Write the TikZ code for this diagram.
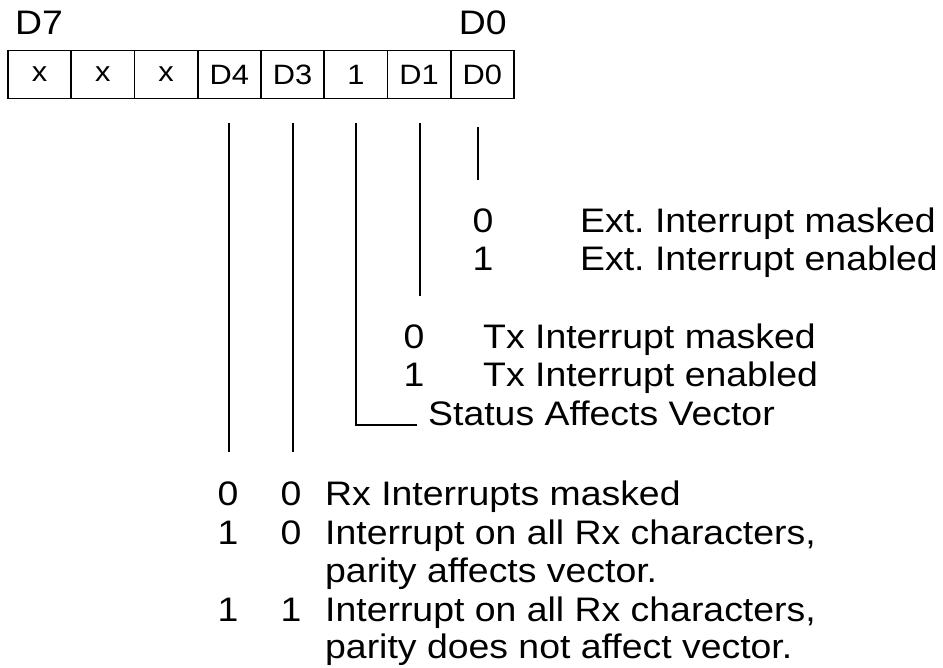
\documentclass[tikz,border=0pt]{standalone}
\usepackage{fontspec}
\setmainfont{Liberation Sans}[FakeStretch=1.1]
\begin{document}
\frenchspacing
\begin{tikzpicture}[x=1pt,y=-1pt,
  lbl/.style={inner sep=0pt,font=\fontsize{34}{40}\selectfont},
  txt/.style={inner sep=0pt,font=\fontsize{34}{40}\selectfont},
  cell/.style={draw,line width=1.6pt,minimum width=63.25pt,minimum height=48pt,inner sep=0pt,font=\fontsize{28}{32}\selectfont},
  ln/.style={line width=1.6pt},
  thk/.style={line width=2.4pt}]
\useasboundingbox (0,0) rectangle (943,668);
% header labels
\node[lbl,anchor=base west] (d7) at (15,35) {D7};
\node[lbl,anchor=base east] (d0) at (507,35) {D0};
% register cells
\foreach \t [count=\i from 0] in {x,x,x,D4,D3,1,D1,D0}
  \node[cell] (c\i) at ({8+63.25*(\i+0.5)},74.5) {\t};
% line end points
\coordinate (s4) at (229,123); \coordinate (e4) at (229,452);
\coordinate (s3) at (293,123); \coordinate (e3) at (293,452);
\coordinate (s2) at (356,123); \coordinate (k2) at (356,425); \coordinate (e2) at (417,425);
\coordinate (s1) at (420,123); \coordinate (e1) at (420,296);
\coordinate (s0) at (478,127); \coordinate (e0) at (478,180);
\draw[ln] (s4) -- (e4);
\draw[ln] (s3) -- (e3);
\draw[ln] (s2) -- (k2) -- (e2);
\draw[thk] (s1) -- (e1);
\draw[ln] (s0) -- (e0);
% D0 legend
\node[txt,anchor=base] (x0) at (483,233) {0};
\node[txt,anchor=base west] (x0t) at (580,233) {Ext. Interrupt masked};
\node[txt,anchor=base] (x1) at (483,271) {1};
\node[txt,anchor=base west] (x1t) at (580,271) {Ext. Interrupt enabled};
% D1 legend
\node[txt,anchor=base] (t0) at (414,349) {0};
\node[txt,anchor=base west] (t0t) at (483,349) {Tx Interrupt masked};
\node[txt,anchor=base] (t1) at (414,387) {1};
\node[txt,anchor=base west] (t1t) at (483,387) {Tx Interrupt enabled};
\node[txt,anchor=base west] (sav) at (428,425) {Status Affects Vector};
% D4 D3 legend
\node[txt,anchor=base] (r0a) at (228,505) {0};
\node[txt,anchor=base] (r0b) at (291,505) {0};
\node[txt,anchor=base west] (r0t) at (325,505) {Rx Interrupts masked};
\node[txt,anchor=base] (r1a) at (228,544) {1};
\node[txt,anchor=base] (r1b) at (291,544) {0};
\node[txt,anchor=base west] (r1t) at (325,544) {Interrupt on all Rx characters,};
\node[txt,anchor=base west] (r1u) at (325,582) {parity affects vector.};
\node[txt,anchor=base] (r2a) at (228,621) {1};
\node[txt,anchor=base] (r2b) at (291,621) {1};
\node[txt,anchor=base west] (r2t) at (325,621) {Interrupt on all Rx characters,};
\node[txt,anchor=base west] (r2u) at (325,658) {parity does not affect vector.};
\end{tikzpicture}
\end{document}
